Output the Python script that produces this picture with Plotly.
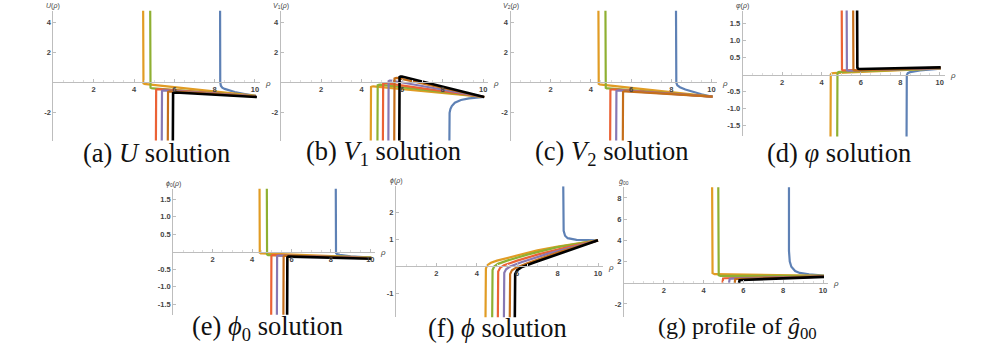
import plotly.graph_objects as go

# ---------------- data ----------------
rho_ticks = [2, 4, 6, 8, 10]
U_yticks = [-2, 2, 4]
V1_yticks = [-2, 2, 4]
V2_yticks = [-2, 2, 4]
vphi_yticks = [-1.5, -1.0, -0.5, 0.5, 1.0, 1.5]
phi0_yticks = [-1.5, -1.0, -0.5, 0.5, 1.0, 1.5]
phi_yticks = [-1, 1, 2]
g00_yticks = [-2, 2, 4, 6, 8]

series_names = ["blue", "orange", "green", "red", "purple", "brown", "black"]
series_colors = {"blue": "#5E81B5", "orange": "#E19C24", "green": "#8FB032",
                 "red": "#EB6235", "purple": "#8778B3", "brown": "#C56E1A",
                 "black": "#000000"}

# (a) U(rho)
U_curves = {
    "blue":   [(8.27, 6), (8.27, 0.5), (8.28, 0.0), (8.31, -0.25), (8.38, -0.38), (8.5, -0.46), (8.7, -0.56), (9.0, -0.67), (9.5, -0.8), (10.05, -0.93)],
    "orange": [(4.45, 6), (4.45, 0.0), (4.47, -0.09), (4.52, -0.13), (4.6, -0.14), (10.05, -0.93)],
    "green":  [(4.8, 6), (4.8, -0.3), (4.82, -0.38), (4.87, -0.42), (4.95, -0.43), (10.05, -0.94)],
    "red":    [(5.08, -6), (5.08, -0.6), (5.1, -0.52), (5.15, -0.49), (5.22, -0.48), (10.05, -0.95)],
    "purple": [(5.37, -6), (5.37, -0.67), (5.39, -0.6), (5.44, -0.57), (5.51, -0.56), (10.05, -0.96)],
    "brown":  [(5.67, -6), (5.67, -0.74), (5.69, -0.67), (5.74, -0.64), (5.81, -0.63), (10.05, -0.97)],
    "black":  [(5.92, -6), (5.92, -0.8), (5.94, -0.74), (5.99, -0.71), (6.06, -0.7), (10.1, -1.0)],
}
# (b) V1(rho)
V1_curves = {
    "blue":   [(8.32, -6), (8.32, -2.4), (8.34, -2.05), (8.38, -1.8), (8.45, -1.6), (8.6, -1.38), (8.9, -1.2), (9.3, -1.09), (10.05, -1.0)],
    "orange": [(4.44, -6), (4.44, -0.4), (4.46, -0.33), (4.51, -0.3), (4.58, -0.29), (10.05, -1.0)],
    "green":  [(4.77, -6), (4.77, -0.29), (4.79, -0.22), (4.84, -0.19), (4.91, -0.18), (10.05, -1.0)],
    "red":    [(5.04, -6), (5.04, -0.18), (5.06, -0.11), (5.11, -0.08), (5.18, -0.07), (10.05, -1.0)],
    "purple": [(5.31, -6), (5.31, -0.01), (5.33, 0.06), (5.38, 0.09), (5.45, 0.1), (10.05, -1.0)],
    "brown":  [(5.6, -6), (5.6, 0.16), (5.62, 0.23), (5.67, 0.26), (5.74, 0.27), (10.05, -1.0)],
    "black":  [(5.85, -6), (5.85, 0.26), (5.87, 0.33), (5.92, 0.36), (5.99, 0.37), (10.05, -1.0)],
}
# (c) V2(rho)
V2_curves = {
    "blue":   [(8.23, 6), (8.23, 0.3), (8.25, -0.05), (8.3, -0.22), (8.43, -0.35), (8.7, -0.5), (9.1, -0.68), (9.5, -0.82), (10.05, -0.98)],
    "orange": [(4.37, 6), (4.37, -0.05), (4.39, -0.13), (4.44, -0.17), (4.52, -0.18), (10.05, -0.98)],
    "green":  [(4.72, 6), (4.72, -0.32), (4.74, -0.39), (4.79, -0.42), (4.87, -0.43), (10.05, -0.98)],
    "red":    [(4.95, -6), (4.95, -0.6), (4.97, -0.53), (5.02, -0.5), (5.1, -0.49), (10.05, -0.98)],
    "purple": [(5.25, -6), (5.25, -0.67), (5.27, -0.6), (5.32, -0.57), (5.4, -0.56), (10.05, -0.98)],
    "brown":  [(5.58, -6), (5.58, -0.72), (5.6, -0.66), (5.65, -0.63), (5.73, -0.62), (10.05, -0.98)],
}
# (d) varphi(rho)
vphi_curves = {
    "blue":   [(8.31, -3), (8.31, -0.12), (8.33, -0.02), (8.38, 0.04), (8.5, 0.07), (9.0, 0.12), (10.05, 0.17)],
    "orange": [(4.45, -3), (4.45, -0.06), (4.47, 0.0), (4.52, 0.03), (4.6, 0.04), (10.05, 0.18)],
    "green":  [(4.79, -3), (4.79, -0.02), (4.81, 0.04), (4.86, 0.07), (4.94, 0.08), (10.05, 0.18)],
    "red":    [(5.02, 3), (5.02, 0.2), (5.04, 0.14), (5.09, 0.12), (5.17, 0.12), (10.05, 0.19)],
    "purple": [(5.27, 3), (5.27, 0.19), (5.29, 0.13), (5.34, 0.11), (5.42, 0.11), (10.05, 0.19)],
    "brown":  [(5.6, 3), (5.6, 0.2), (5.62, 0.14), (5.67, 0.12), (5.75, 0.12), (10.05, 0.2)],
    "black":  [(5.8, 3), (5.8, 0.26), (5.82, 0.2), (5.87, 0.17), (5.95, 0.16), (10.05, 0.21)],
}
# (e) phi0(rho)
phi0_curves = {
    "blue":   [(8.24, 3), (8.24, 0.02), (8.26, -0.04), (8.32, -0.07), (8.45, -0.09), (9.0, -0.13), (10.05, -0.17)],
    "orange": [(4.37, 3), (4.37, 0.0), (4.39, -0.03), (4.44, -0.05), (4.52, -0.05), (10.05, -0.17)],
    "green":  [(4.74, 3), (4.74, -0.04), (4.76, -0.08), (4.81, -0.1), (4.89, -0.1), (10.05, -0.17)],
    "red":    [(4.96, -3), (4.96, -0.16), (4.98, -0.12), (5.03, -0.1), (5.11, -0.1), (10.05, -0.18)],
    "purple": [(5.25, -3), (5.25, -0.17), (5.27, -0.13), (5.32, -0.11), (5.4, -0.11), (10.05, -0.18)],
    "brown":  [(5.58, -3), (5.58, -0.18), (5.6, -0.14), (5.65, -0.12), (5.73, -0.12), (10.05, -0.19)],
    "black":  [(5.77, -3), (5.77, -0.21), (5.79, -0.16), (5.84, -0.14), (5.92, -0.14), (10.05, -0.2)],
}
# (f) phi(rho)
phi_curves = {
    "blue":   [(8.28, 2.95), (8.28, 1.5), (8.3, 1.3), (8.37, 1.12), (8.5, 1.03), (8.94, 0.97), (10.0, 0.95)],
    "orange": [(4.42, -3), (4.42, -0.3), (4.45, -0.1), (4.52, 0.03), (4.7, 0.12), (5.0, 0.2), (5.4, 0.28), (6.0, 0.38), (7.0, 0.58), (8.0, 0.72), (9.0, 0.84), (10.0, 0.95)],
    "green":  [(4.75, -3), (4.75, -0.35), (4.78, -0.15), (4.86, -0.02), (5.05, 0.08), (5.5, 0.2), (6.5, 0.42), (8.0, 0.7), (10.0, 0.95)],
    "red":    [(5.03, -3), (5.03, -0.4), (5.06, -0.2), (5.15, -0.07), (5.35, 0.03), (6.0, 0.2), (7.0, 0.42), (8.5, 0.7), (10.0, 0.95)],
    "purple": [(5.33, -3), (5.33, -0.45), (5.36, -0.25), (5.45, -0.12), (5.65, -0.02), (6.2, 0.14), (7.5, 0.45), (10.0, 0.95)],
    "brown":  [(5.62, -3), (5.62, -0.5), (5.65, -0.3), (5.74, -0.16), (5.95, -0.06), (6.5, 0.1), (8.0, 0.5), (10.0, 0.95)],
    "black":  [(5.87, -3), (5.87, -0.5), (5.9, -0.3), (6.0, -0.15), (6.2, -0.05), (6.8, 0.12), (8.0, 0.43), (10.0, 0.95)],
}
# (g) g00 hat
g00_curves = {
    "blue":   [(8.29, 12), (8.29, 3), (8.33, 2.0), (8.41, 1.5), (8.6, 1.1), (8.83, 0.92), (9.3, 0.78), (10.05, 0.68)],
    "orange": [(4.42, 12), (4.42, 1.2), (4.45, 0.9), (4.55, 0.8), (10.05, 0.65)],
    "green":  [(4.73, 12), (4.73, 0.9), (4.76, 0.7), (4.85, 0.64), (10.05, 0.65)],
    "red":    [(4.95, 0), (4.95, 0.3), (4.98, 0.4), (5.06, 0.42), (10.05, 0.6)],
    "purple": [(5.28, 0), (5.28, 0.28), (5.31, 0.36), (5.39, 0.38), (10.05, 0.58)],
    "brown":  [(5.56, 0), (5.56, 0.25), (5.59, 0.33), (5.67, 0.35), (10.05, 0.57)],
    "black":  [(5.78, 0), (5.78, 0.17), (5.81, 0.24), (5.9, 0.26), (10.05, 0.55)],
}

# ---------------- layout configuration ----------------
W, H = 996, 344
XR = [0, 10.25]


def tick_text(vals):
    return [f"{v:.1f}" if isinstance(v, float) else str(v) for v in vals]


panels = [
    dict(curves=U_curves, yticks=U_yticks, yr=[-3.9, 4.75], x0=53.4, xs=20.15, y0=82, ys=15,
         ylab="<i>U</i>(<i>ρ</i>)", cap="(a) <i>U</i> solution", cx=156, cy=152.5, cs=26.5),
    dict(curves=V1_curves, yticks=V1_yticks, yr=[-3.9, 4.75], x0=280.7, xs=20.25, y0=82, ys=15,
         ylab="<i>V</i><sub>1</sub>(<i>ρ</i>)", cap="(b) <i>V</i><sub>1</sub> solution", cx=383.5, cy=152.5, cs=26.5),
    dict(curves=V2_curves, yticks=V2_yticks, yr=[-3.9, 4.75], x0=510.5, xs=20.1, y0=82, ys=15,
         ylab="<i>V</i><sub>2</sub>(<i>ρ</i>)", cap="(c) <i>V</i><sub>2</sub> solution", cx=611.7, cy=152.5, cs=26.5),
    dict(curves=vphi_curves, yticks=vphi_yticks, yr=[-1.82, 1.88], x0=742.7, xs=19.7, y0=74.5, ys=34,
         ylab="<i>φ</i>(<i>ρ</i>)", cap="(d) <i>φ</i> solution", cx=839, cy=152.5, cs=26.5),
    dict(curves=phi0_curves, yticks=phi0_yticks, yr=[-1.8, 1.8], x0=173.3, xs=19.7, y0=251.7, ys=35,
         ylab="<i>ϕ</i><sub>0</sub>(<i>ρ</i>)", cap="(e) <i>ϕ</i><sub>0</sub> solution", cx=267, cy=327.5, cs=26.5),
    dict(curves=phi_curves, yticks=phi_yticks, yr=[-1.9, 2.95], x0=396, xs=20.2, y0=266, ys=27,
         ylab="<i>ϕ</i>(<i>ρ</i>)", cap="(f) <i>ϕ</i> solution", cx=497, cy=327.5, cs=26.5),
    dict(curves=g00_curves, yticks=g00_yticks, yr=[-3.2, 9.0], x0=624, xs=19.9, y0=282.7, ys=10.6,
         ylab="<i>ĝ</i><sub>00</sub>", cap="(g) profile of <i>ĝ</i><sub>00</sub>", cx=737.5, cy=327.5, cs=24),
]

fig = go.Figure()
annotations = []
tickfont = dict(family="Liberation Sans, Arial", size=7.5, color="#444", weight="bold")
axcol = "#bdbdbd"

for i, p in enumerate(panels, start=1):
    key = "" if i == 1 else str(i)
    xa, ya = "x" + key, "y" + key
    for name in series_names:
        if name not in p["curves"]:
            continue
        pts = p["curves"][name]
        fig.add_trace(go.Scatter(
            x=[q[0] for q in pts], y=[q[1] for q in pts], mode="lines",
            line=dict(color=series_colors[name], width=2.6 if name == "black" else 2.2),
            xaxis=xa, yaxis=ya, showlegend=False, hoverinfo="skip"))
    left = p["x0"]
    right = left + XR[1] * p["xs"]
    yzero = p["y0"]
    top = yzero - p["yr"][1] * p["ys"]
    bottom = yzero - p["yr"][0] * p["ys"]
    fig.update_layout(**{
        f"xaxis{key}": dict(domain=[left / W, right / W], range=XR, anchor="free",
                            position=1 - yzero / H, tickmode="array", tickvals=rho_ticks,
                            ticks="inside", ticklen=3, tickcolor=axcol, showline=True,
                            linecolor=axcol, linewidth=1, showgrid=False, zeroline=False,
                            tickfont=tickfont, fixedrange=True,
                            minor=dict(ticks="inside", ticklen=2, tickcolor="#dddddd", dtick=0.5, tick0=0)),
        f"yaxis{key}": dict(domain=[1 - bottom / H, 1 - top / H], range=p["yr"], anchor=xa,
                            tickmode="array", tickvals=p["yticks"], ticktext=tick_text(p["yticks"]),
                            ticks="inside", ticklen=3,
                            tickcolor=axcol, showline=True, linecolor=axcol, linewidth=1,
                            showgrid=False, zeroline=False, tickfont=tickfont, fixedrange=True),
    })
    annotations.append(dict(text=p["ylab"], xref=f"{xa} domain", yref=f"{ya} domain", x=0, y=1,
                            xanchor="center", yanchor="bottom", yshift=-1, showarrow=False,
                            font=dict(family="Liberation Sans, Arial", size=7, color="#444")))
    annotations.append(dict(text="<i>ρ</i>", xref=f"{xa} domain", yref=ya, x=1, y=0,
                            xanchor="left", yanchor="middle", xshift=3, yshift=-1, showarrow=False,
                            font=dict(family="Liberation Sans, Arial", size=8, color="#444")))
    annotations.append(dict(text=p["cap"], xref="paper", yref="paper", x=p["cx"] / W,
                            y=1 - p["cy"] / H, xanchor="center", yanchor="middle",
                            showarrow=False,
                            font=dict(family="Liberation Serif, Times New Roman", size=p["cs"], color="#111")))

fig.update_layout(width=W, height=H, margin=dict(l=0, r=0, t=0, b=0),
                  paper_bgcolor="white", plot_bgcolor="white", annotations=annotations,
                  showlegend=False)
fig.write_html("out.html", config={"displayModeBar": False},
               post_script="document.body.style.margin='0px';")
